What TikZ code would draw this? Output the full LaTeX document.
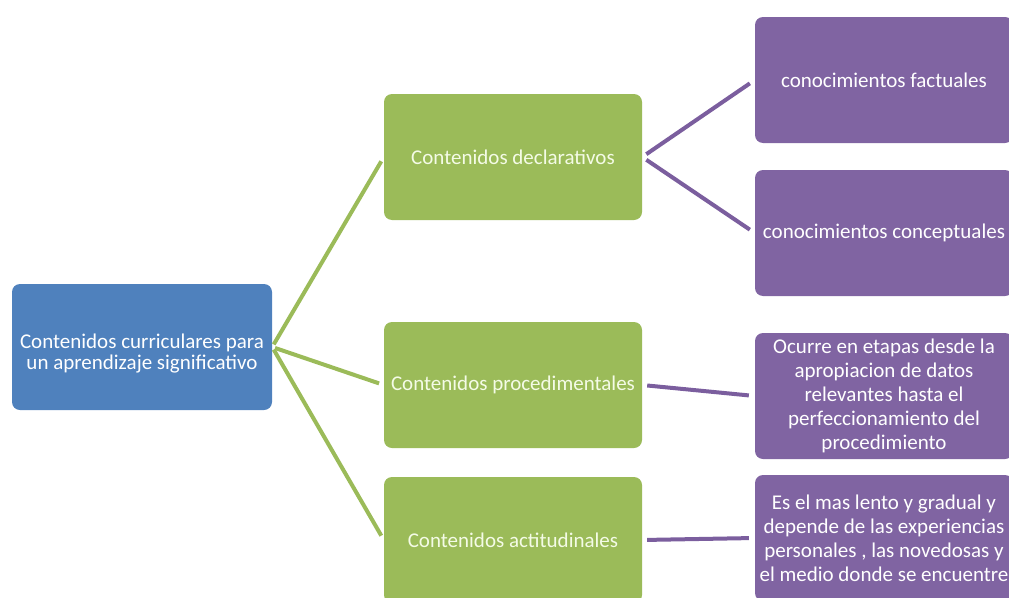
\documentclass[tikz,border=0pt]{standalone}
\usepackage{fontspec}
\setmainfont{Carlito}
\usepackage{xcolor}
\usetikzlibrary{positioning}
\definecolor{bluebox}{HTML}{4F81BD}
\definecolor{greenbox}{HTML}{9BBB59}
\definecolor{purplebox}{HTML}{8064A2}
\definecolor{purpleline}{HTML}{7B5E9E}
\definecolor{greentext}{HTML}{F4FBE6}
\tikzset{
    mapbox/.style={rounded corners=8pt,minimum width=258pt,minimum height=126pt,
        text=white,align=center,inner sep=2pt,font=\fontsize{21}{24}\selectfont},
    rootbox/.style={mapbox,fill=bluebox,minimum width=260pt},
    roottext/.style={text=white,align=center,inner sep=0pt,font=\fontsize{21}{21}\selectfont},
    levelbox/.style={mapbox,fill=greenbox,text=greentext},
    leafbox/.style={mapbox,fill=purplebox},
    greenlink/.style={draw=greenbox,line width=4pt,shorten >=5pt,shorten <=3pt},
    purplelink/.style={draw=purpleline,line width=4pt,shorten >=6pt,shorten <=5pt}
}

\begin{document}
\begin{tikzpicture}[x=1pt,y=-1pt]
        %%% CANVAS %%%
        \useasboundingbox (0,0) rectangle (1009,597);
        \clip (0,0) rectangle (1009,597);

        %%% BOXES %%%
        \node[rootbox] (curr) at (142,347) {};
        \node[roottext] (currtext) at ([yshift=-7pt]curr.center) {Contenidos curriculares para\\un aprendizaje significativo};
        \node[levelbox] (decl) at (513,157) {Contenidos declarativos};
        \node[levelbox] (proc) at (513,385) {Contenidos procedimentales};
        \node[levelbox] (acti) at (513,540) {Contenidos actitudinales};
        \node[leafbox] (fact) at (884,80) {conocimientos factuales};
        \node[leafbox] (conc) at (884,233) {conocimientos conceptuales};
        \node[leafbox] (ocur) at (884,396) {Ocurre en etapas desde la\\apropiacion de datos\\relevantes hasta el\\perfeccionamiento del\\procedimiento};
        \node[leafbox] (lent) at (884,538) {Es el mas lento y gradual y\\depende de las experiencias\\personales , las novedosas y\\el medio donde se encuentre};

        %%% LINKS %%%
        \draw[greenlink] (curr.east) -- (decl.west);
        \draw[greenlink] (curr.east) -- (proc.west);
        \draw[greenlink] (curr.east) -- (acti.west);
        \draw[purplelink] (decl.east) -- (fact.west);
        \draw[purplelink] (decl.east) -- (conc.west);
        \draw[purplelink] (proc.east) -- (ocur.west);
        \draw[purplelink] (acti.east) -- (lent.west);
    \end{tikzpicture}
\end{document}
